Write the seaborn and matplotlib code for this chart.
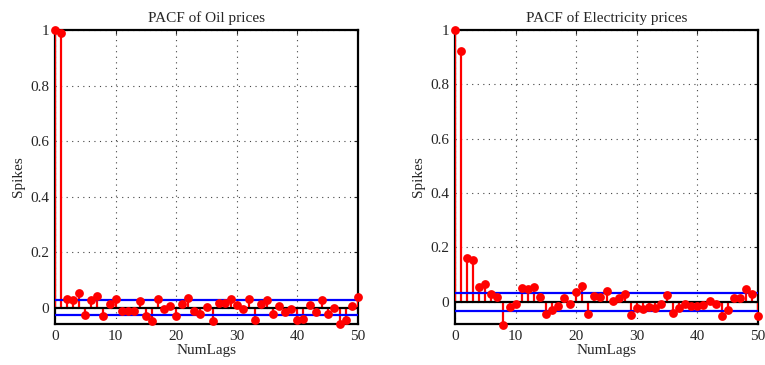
import numpy as np
import pandas as pd
import matplotlib
matplotlib.use("Agg")
import matplotlib.pyplot as plt
import seaborn as sns

lags = list(range(51))

oil_pacf = [1.0, 0.99, 0.032, 0.029, 0.054, -0.025, 0.029, 0.041, -0.031, 0.014,
            0.031, -0.011, -0.013, -0.012, 0.026, -0.031, -0.049, 0.032, -0.004, 0.005,
            -0.031, 0.014, 0.037, -0.011, -0.022, 0.002, -0.049, 0.017, 0.017, 0.032,
            0.011, -0.004, 0.032, -0.042, 0.014, 0.029, -0.022, 0.006, -0.016, -0.004,
            -0.044, -0.041, 0.010, -0.016, 0.029, -0.023, -0.002, -0.059, -0.044, 0.007,
            0.040]

elec_pacf = [1.0, 0.924, 0.161, 0.152, 0.055, 0.065, 0.030, 0.019, -0.084, -0.018,
             -0.010, 0.052, 0.045, 0.056, 0.018, -0.047, -0.032, -0.016, 0.012, -0.010,
             0.035, 0.057, -0.044, 0.022, 0.017, 0.041, 0.004, 0.012, 0.028, -0.048,
             -0.023, -0.025, -0.018, -0.022, -0.008, 0.023, -0.041, -0.022, -0.010, -0.015,
             -0.017, -0.013, 0.004, -0.007, -0.051, -0.029, 0.012, 0.013, 0.045, 0.028,
             -0.052]

titles = ["PACF of Oil prices", "PACF of Electricity prices"]
bounds = [0.027, 0.033]
ymins = [-0.058, -0.082]
xticks = [0, 10, 20, 30, 40, 50]
yticks = [0, 0.2, 0.4, 0.6, 0.8, 1]
ytick_labels = ["0", "0.2", "0.4", "0.6", "0.8", "1"]

sns.set_style("white")
plt.rcParams["font.family"] = ["Liberation Serif", "DejaVu Serif"]
plt.rcParams["xtick.direction"] = "in"
plt.rcParams["ytick.direction"] = "in"

fig = plt.figure(figsize=(7.65, 3.65), dpi=100)
W, H = 765, 365
ax_boxes = [[55 / W, 41 / H, 303 / W, 294 / H],
            [455 / W, 41 / H, 303 / W, 294 / H]]

for box, vals, title, bnd, ymin in zip(ax_boxes, [oil_pacf, elec_pacf], titles, bounds, ymins):
    ax = fig.add_axes(box)
    df = pd.DataFrame({"lag": lags, "pacf": vals})
    ax.vlines(df["lag"], 0, df["pacf"], color="#ff0000", lw=1.6, zorder=3)
    ax.axhline(0, color="black", lw=1.6, zorder=4)
    ax.axhline(bnd, color="#0000ff", lw=1.6, zorder=4)
    ax.axhline(-bnd, color="#0000ff", lw=1.6, zorder=4)
    sns.scatterplot(data=df, x="lag", y="pacf", ax=ax, color="#ff0000", s=40,
                    edgecolor="#ff0000", linewidth=0, zorder=5, clip_on=False, legend=False)
    ax.set_xlim(0, 50)
    ax.set_ylim(ymin, 1)
    ax.set_xticks(xticks)
    ax.set_yticks(yticks)
    ax.set_yticklabels(ytick_labels)
    ax.grid(True, color="#444444", linestyle=(0, (1, 4)), lw=0.8)
    ax.tick_params(labelsize=11, length=3, width=0.8, top=True, right=True, pad=4)
    for sp in ax.spines.values():
        sp.set_visible(True)
        sp.set_color("black")
        sp.set_linewidth(1.6)
    ax.set_title(title, fontsize=11, pad=6)
    ax.set_xlabel("NumLags", fontsize=11, labelpad=1)
    ax.set_ylabel("Spikes", fontsize=11, labelpad=4)

fig.savefig("out.png", dpi=100)
